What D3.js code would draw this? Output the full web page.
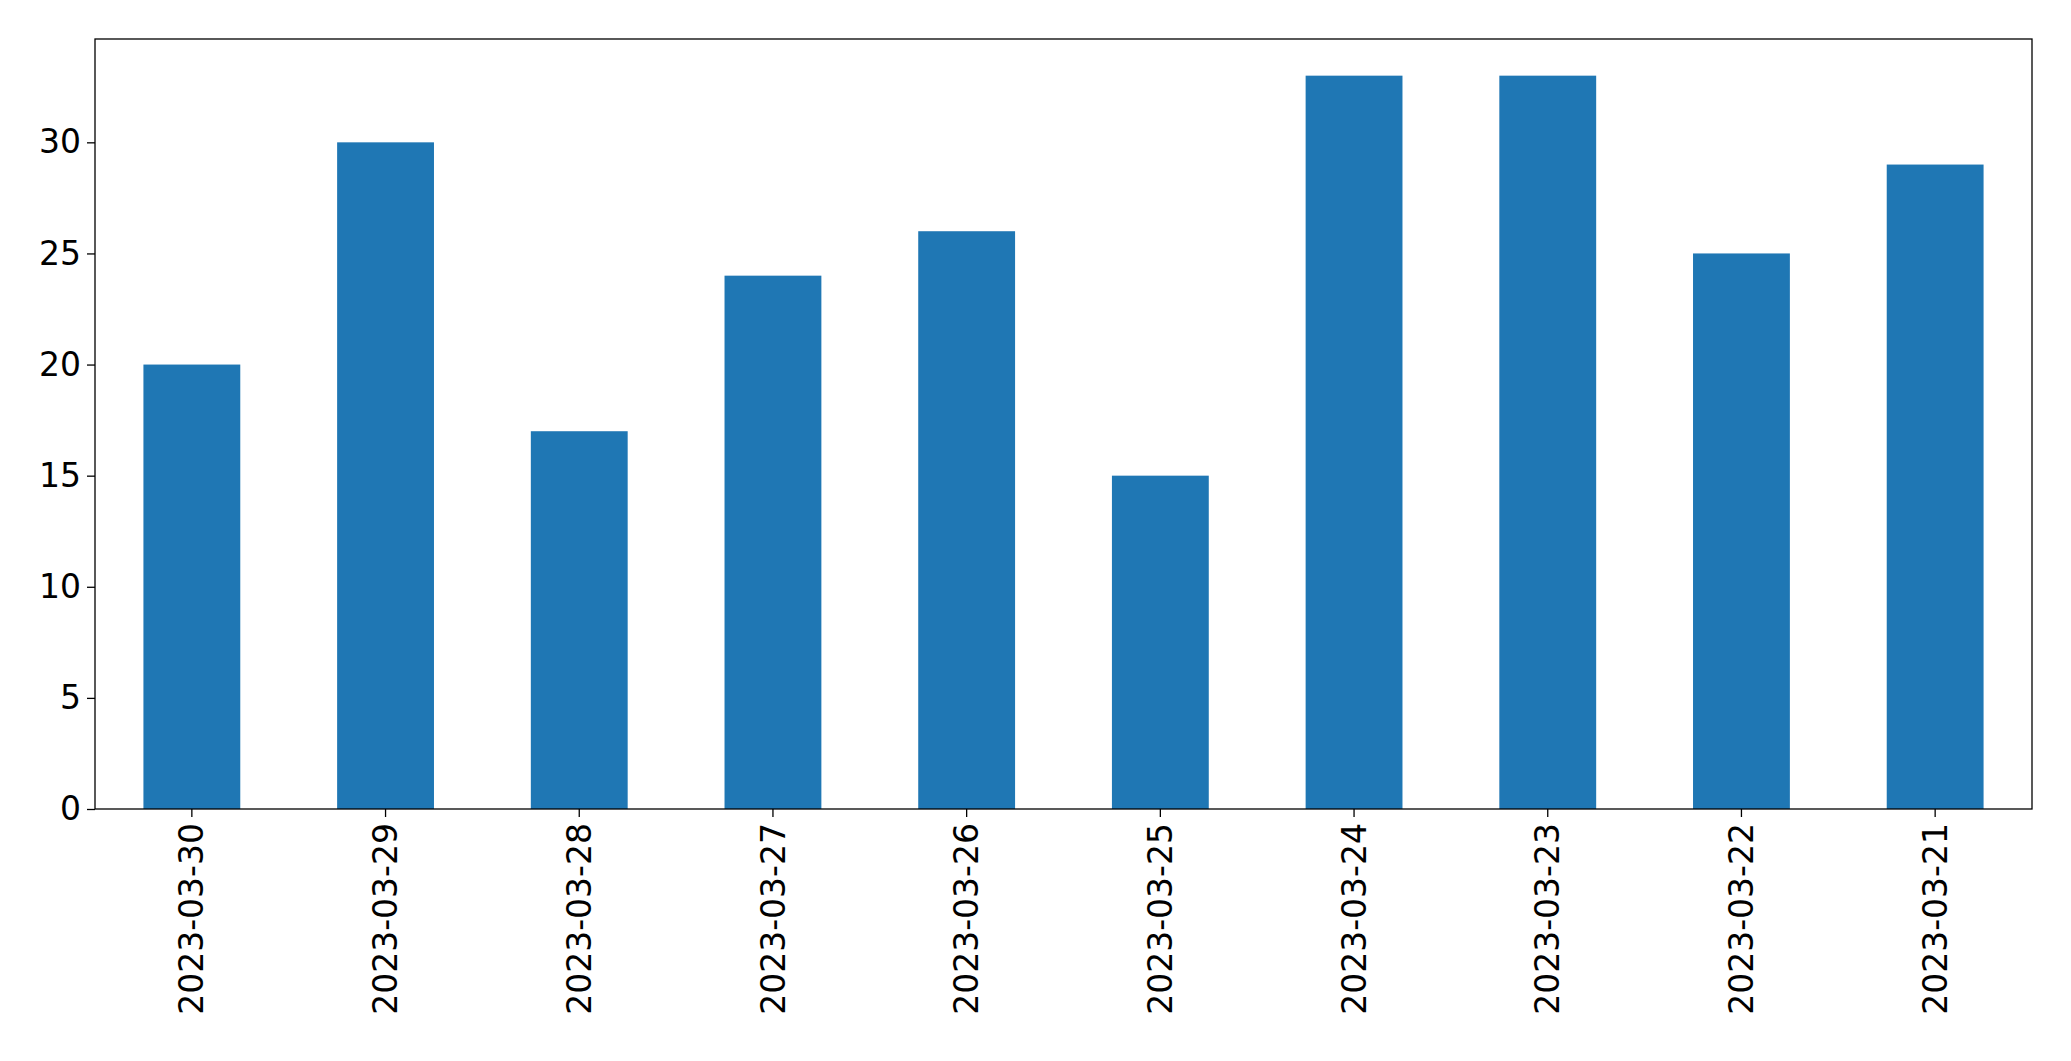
<!DOCTYPE html>
<html><head><meta charset="utf-8">
<script src="https://cdn.jsdelivr.net/npm/d3@7"></script>
<style>body{margin:0;background:#fff}text{font-family:"DejaVu Sans",sans-serif}</style>
</head><body><svg id="chart" width="2071" height="1061"></svg>
<script>
// dates as shown on the x axis (newest first)
const dates = ['2023-03-30','2023-03-29','2023-03-28','2023-03-27','2023-03-26','2023-03-25','2023-03-24','2023-03-23','2023-03-22','2023-03-21']
const counts = [20, 30, 17, 24, 26, 15, 33, 33, 25, 29]
const yTicks = [0, 5, 10, 15, 20, 25, 30]

const margin = {left: 95, right: 2032, top: 39, bottom: 809}
const svg = d3.select('#chart')

const x = d3.scaleBand().domain(dates).range([margin.left, margin.right]).paddingInner(0.5).paddingOuter(0.25)
const y = d3.scaleLinear().domain([0, 34.65]).range([margin.bottom, margin.top])

svg.append('g').selectAll('rect')
  .data(dates)
  .join('rect')
  .attr('x', d => x(d))
  .attr('width', x.bandwidth())
  .attr('y', (d, i) => y(counts[i]))
  .attr('height', (d, i) => y(0) - y(counts[i]))
  .attr('fill', '#1f77b4')

const yAxis = svg.append('g')
  .attr('transform', `translate(${margin.left},0)`)
  .call(d3.axisLeft(y).tickValues(yTicks).tickSize(8).tickPadding(6))
yAxis.selectAll('text').style('font-size', '33px').attr('fill', '#000')

const xAxis = svg.append('g')
  .attr('transform', `translate(0,${margin.bottom})`)
  .call(d3.axisBottom(x).tickSize(8).tickPadding(6))
xAxis.selectAll('text')
  .style('font-size', '33px').attr('fill', '#000')
  .attr('transform', 'rotate(-90)')
  .attr('text-anchor', 'end')
  .attr('x', -14).attr('y', 0).attr('dy', '0.35em')

svg.selectAll('.domain').remove()
svg.selectAll('.tick line').attr('stroke', '#000').attr('stroke-width', 1.3)
svg.append('rect')
  .attr('x', margin.left).attr('y', margin.top)
  .attr('width', margin.right - margin.left).attr('height', margin.bottom - margin.top)
  .attr('fill', 'none').attr('stroke', '#000').attr('stroke-width', 1.3)
</script></body></html>
